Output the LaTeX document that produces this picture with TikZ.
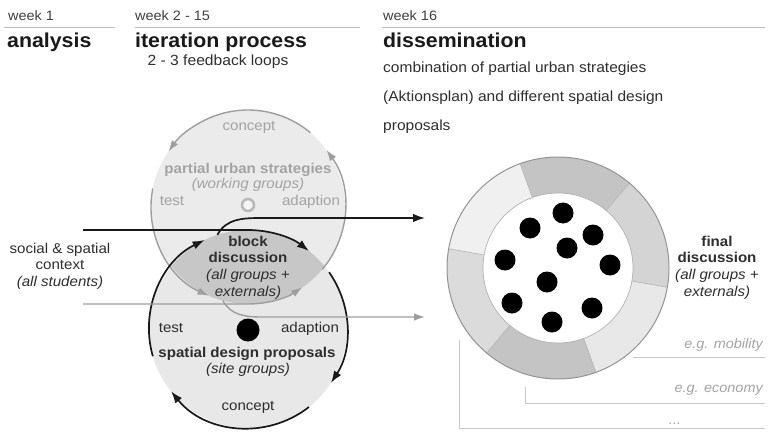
\documentclass[tikz,border=0pt]{standalone}
\usepackage{fontspec}
\setmainfont{Liberation Sans}[FakeStretch=1.06]
\usetikzlibrary{arrows.meta,positioning,calc}
\tikzset{
  wk/.style={anchor=base west, inner sep=0pt, text=black!75, font=\fontsize{13.7}{15}\selectfont},
  phase/.style={anchor=base west, inner sep=0pt, text=black!90, font=\bfseries\fontsize{20.2}{22}\selectfont},
  hrule/.style={draw=black!25, line width=0.8bp},
  txt/.style={inner sep=0pt, align=center, font=\fontsize{14.3}{16.7}\selectfont},
  lighttxt/.style={txt, text=black!36},
  darktxt/.style={txt, text=black!82},
  loopc/.style={circle, inner sep=0pt, outer sep=0pt, minimum size=#1},
  grayarc/.style={draw=black!38, line width=1.4bp, -{Latex[length=11bp,width=7.5bp]}},
  blackarc/.style={draw=black!90, line width=1.7bp, -{Latex[length=12bp,width=8.5bp]}},
  group/.style={circle, fill=black, inner sep=0pt, minimum size=21bp},
  topic/.style={anchor=base east, inner sep=0pt, text=black!36, font=\itshape\fontsize{13.7}{15}\selectfont},
  tline/.style={draw=black!22, line width=0.8bp},
}
\begin{document}
\begin{tikzpicture}[x=1bp, y=1bp]
  \useasboundingbox (0,0) rectangle (770,431);
  % phase headers
  \node[wk] (w1) at (8,410) {week 1};
  \node[wk] (w2) at (135,410) {week 2 - 15};
  \node[wk] (w3) at (383,410) {week 16};
  \draw[hrule] (4,404) -- (115,404);
  \draw[hrule] (135,404) -- (360,404);
  \draw[hrule] (382,404) -- (765,404);
  \node[phase] (analysis) at (7,384) {analysis};
  \node[phase] (iter) at (135,384) {iteration process};
  \node[phase] (diss) at (383,384) {dissemination};
  \node[darktxt, anchor=base, font=\fontsize{14.8}{16}\selectfont] (loops) at (218,366) {2 - 3 feedback loops};
  \node[darktxt, anchor=base west, font=\fontsize{14.7}{16}\selectfont] (dissA) at (383,359) {combination of partial urban strategies};
  \node[darktxt, anchor=base west, font=\fontsize{14.7}{16}\selectfont] (dissB) at (383,330) {(Aktionsplan) and different spatial design};
  \node[darktxt, anchor=base west, font=\fontsize{14.7}{16}\selectfont] (dissC) at (383,301) {proposals};

  % the two loops
  \node[loopc=194bp, fill=black!8] (urban) at (248,224) {};
  \node[loopc=198bp, fill=black!9] (spatial) at (248,102) {};
  \begin{scope}
    \clip (urban.center) circle[radius=97];
    \fill[black!22] (spatial.center) circle[radius=99];
  \end{scope}
  \node[circle, draw=black!28, line width=2.5bp, fill=black!4, minimum size=12bp, inner sep=0pt] (hub) at (248,226) {};
  \node[group, minimum size=23bp] (site) at (248,101) {};

  % final discussion ring
  \coordinate (disc) at (558,163);
  \foreach \a/\b/\tone in {50/110/23, -10/50/17, -70/-10/9, -130/-70/23, 170/230/14, 110/170/6}
    \fill[black!\tone] ($(disc)+(\a:111)$) arc[start angle=\a, end angle=\b, radius=111]
      -- ($(disc)+(\b:75)$) arc[start angle=\b, end angle=\a, radius=75] -- cycle;
  \foreach \a in {50,110,170,230,290,350}
    \draw[black!30, line width=0.6bp] ($(disc)+(\a:75)$) -- ($(disc)+(\a:111)$);
  \draw[black!42, line width=1bp] (disc) circle[radius=111];
  \draw[black!30, line width=0.7bp] (disc) circle[radius=75];
  \foreach \x/\y [count=\i] in {563/218, 530/203, 593/196, 567/183, 505/171, 610/166, 547/149, 512/128, 592/123, 552/109}
    \node[group] (g\i) at (\x,\y) {};

  % loop arrows
  \draw[grayarc] (urban.50) arc[start angle=50, end angle=145, radius=97];
  \draw[grayarc] (urban.169) arc[start angle=169, end angle=246, radius=97];
  \draw[grayarc] (urban.320) arc[start angle=320, end angle=396, radius=97];
  \draw[blackarc] (spatial.196) arc[start angle=196, end angle=116, radius=99];
  \draw[blackarc] (spatial.35) arc[start angle=35, end angle=-33, radius=99];
  \draw[blackarc] (spatial.308) arc[start angle=308, end angle=219, radius=99];

  % flows in and out
  \coordinate (inA) at (83,201);
  \coordinate (outA) at (425,213);
  \coordinate (inB) at (83,127);
  \coordinate (outB) at (425,114);
  \draw[blackarc] (inA) -- (spatial.90) arc[start angle=90, end angle=52, radius=99];
  \draw[blackarc] (spatial.108) to[out=62, in=180] ([xshift=-163bp]outA) -- (outA);
  \draw[grayarc] (inB) -- (urban.270) arc[start angle=270, end angle=304, radius=97];
  \draw[grayarc] (urban.255) to[out=-62, in=180] ([xshift=-163bp]outB) -- (outB);

  % labels
  \node[darktxt] (ctx) at (60,165) {social \& spatial\\context\\\textit{(all students)}};
  \node[lighttxt, anchor=base] (uc) at (249,301) {concept};
  \node[lighttxt, anchor=base, font=\bfseries\fontsize{14.3}{16}\selectfont] (ut) at (248,258) {partial urban strategies};
  \node[lighttxt, anchor=base, font=\itshape\fontsize{14.3}{16}\selectfont] (ug) at (248,243) {(working groups)};
  \node[lighttxt, anchor=base] (utest) at (172,226) {test};
  \node[lighttxt, anchor=base] (uadapt) at (311,226) {adaption};
  \node[darktxt] (block) at (248,163.5) {\textbf{block}\\\textbf{discussion}\\\textit{(all groups +}\\\textit{externals)}};
  \node[darktxt, anchor=base] (stest) at (171,99) {test};
  \node[darktxt, anchor=base] (sadapt) at (310,99) {adaption};
  \node[darktxt, anchor=base, font=\bfseries\fontsize{14.3}{16}\selectfont] (st) at (247,74) {spatial design proposals};
  \node[darktxt, anchor=base, font=\itshape\fontsize{14.3}{16}\selectfont] (sg) at (248,58) {(site groups)};
  \node[darktxt, anchor=base] (sc) at (248,21) {concept};
  \node[darktxt] (final) at (717,163.5) {\textbf{final}\\\textbf{discussion}\\\textit{(all groups +}\\\textit{externals)}};

  % topics
  \draw[tline] (633,74) -- (765,74);
  \draw[tline] (525,44) -- (525,28) -- (765,28);
  \draw[tline] (459,91) -- (459,3) -- (765,3);
  \node[topic] (mob) at (763,83) {e.g. mobility};
  \node[topic] (eco) at (763,39) {e.g. economy};
  \node[topic, anchor=base] (more) at (675,7) {...};
\end{tikzpicture}
\end{document}
